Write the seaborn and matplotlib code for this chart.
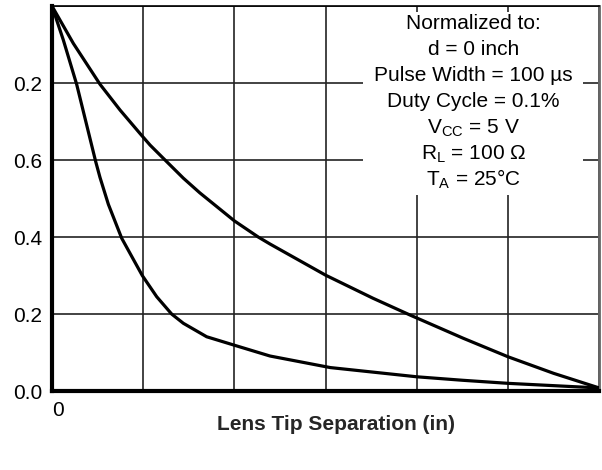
import numpy as np
import pandas as pd
import matplotlib
matplotlib.use("Agg")
import matplotlib.pyplot as plt
import seaborn as sns
from matplotlib.patches import Rectangle

# values (x in grid divisions, y normalized output)
x_slow = [0.0, 0.234, 0.526, 0.746, 0.965, 1.075, 1.24, 1.44, 1.62, 2.0, 2.262, 2.39, 3.0, 3.52, 3.93, 4.51, 5.0, 5.5, 6.0]
y_slow = [1.0, 0.903, 0.797, 0.73, 0.669, 0.639, 0.60, 0.553, 0.515, 0.442, 0.40, 0.382, 0.301, 0.241, 0.197, 0.137, 0.089, 0.046, 0.008]

x_fast = [0.0, 0.124, 0.27, 0.479, 0.526, 0.618, 0.764, 0.892, 0.99, 1.148, 1.312, 1.44, 1.696, 2.0, 2.39, 3.05, 4.0, 4.5, 5.0, 5.5, 6.0]
y_fast = [1.0, 0.912, 0.797, 0.596, 0.555, 0.485, 0.397, 0.342, 0.30, 0.245, 0.20, 0.176, 0.141, 0.119, 0.091, 0.061, 0.037, 0.028, 0.020, 0.014, 0.008]

y_ticks = [0.0, 0.2, 0.4, 0.6, 0.8]
y_ticklabels = ["0.0", "0.2", "0.4", "0.6", "0.2"]
x_ticks = [0, 1, 2, 3, 4, 5, 6]
x_ticklabels = ["0", "", "", "", "", "", ""]

notes = ["Normalized to:",
         "d = 0 inch",
         "Pulse Width = 100 \u00b5s",
         "Duty Cycle = 0.1%",
         "V$_{\\mathregular{CC}}$ = 5 V",
         "R$_{\\mathregular{L}}$ = 100 \u03a9",
         "T$_{\\mathregular{A}}$ = 25\u00b0C"]


def main():
    sns.set_theme(style="white")
    plt.rcParams["font.family"] = ["Liberation Sans", "DejaVu Sans"]
    plt.rcParams["mathtext.fontset"] = "custom"
    plt.rcParams["mathtext.rm"] = "Liberation Sans"

    df = pd.concat([
        pd.DataFrame({"x": x_slow, "y": y_slow, "curve": "slow"}),
        pd.DataFrame({"x": x_fast, "y": y_fast, "curve": "fast"}),
    ])

    fig = plt.figure(figsize=(6.02, 4.70), dpi=100)
    ax = fig.add_axes([0.0864, 0.168, 0.909, 0.819])

    sns.lineplot(data=df, x="x", y="y", units="curve", estimator=None,
                 color="black", linewidth=2.3, sort=False, ax=ax, zorder=5)
    for l in ax.lines:
        l.set_solid_joinstyle("round")

    ax.set_xlim(0, 6)
    ax.set_ylim(0, 1.0)
    ax.set_xticks(x_ticks)
    ax.set_xticklabels(x_ticklabels)
    ax.set_yticks(y_ticks + [1.0])
    ax.set_yticklabels(y_ticklabels + [""])
    ax.tick_params(axis="both", length=0, labelsize=15, colors="black")
    ax.tick_params(axis="y", pad=7)
    ax.tick_params(axis="x", pad=7)
    for lab in ax.get_xticklabels():
        lab.set_horizontalalignment("left")

    ax.grid(True, color="#222222", linewidth=1.2)
    ax.set_axisbelow(True)

    ax.spines["left"].set_linewidth(3)
    ax.spines["bottom"].set_linewidth(3)
    ax.spines["left"].set_color("black")
    ax.spines["bottom"].set_color("black")
    ax.spines["top"].set_linewidth(1.2)
    ax.spines["top"].set_color("black")
    ax.spines["right"].set_linewidth(2)
    ax.spines["right"].set_color("#666666")

    ax.set_ylabel("")
    ax.set_xlabel("Lens Tip Separation (in)", fontsize=15, fontweight="bold")
    ax.xaxis.set_label_coords(0.519, -0.062)

    # white panel behind the notes
    ax.add_patch(Rectangle((0.569, 0.509), 0.402, 0.475, transform=ax.transAxes,
                           facecolor="white", edgecolor="none", zorder=2))
    for i, t in enumerate(notes):
        ax.text(0.77, 0.9395 - i * 0.0675, t, transform=ax.transAxes, ha="center",
                va="baseline", fontsize=15, color="black", zorder=6)

    fig.savefig("out.png", dpi=100)


if __name__ == "__main__":
    main()
